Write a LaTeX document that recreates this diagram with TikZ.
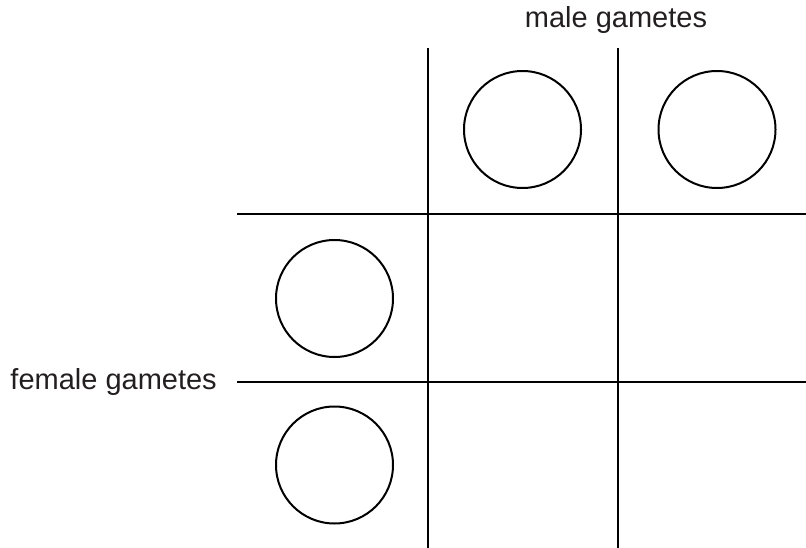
\documentclass[tikz,border=0pt]{standalone}
\usepackage{fontspec}
\setmainfont{Liberation Sans}
\definecolor{txt}{HTML}{231F20}
\begin{document}
\begin{tikzpicture}[x=1pt,y=-1pt,
  gridline/.style={line width=2pt,black},
  gamete/.style={circle,draw=black,line width=2pt,minimum size=117pt,inner sep=0pt},
  label/.style={font=\fontsize{29}{34}\selectfont,text=txt,inner sep=0pt}]
\useasboundingbox (0,0) rectangle (806,548);
% grid end points
\coordinate (v1t) at (427.5,48);
\coordinate (v1b) at (427.5,548);
\coordinate (v2t) at (618,48);
\coordinate (v2b) at (618,548);
\coordinate (h1l) at (237,214.5);
\coordinate (h1r) at (806,214.5);
\coordinate (h2l) at (237,381.5);
\coordinate (h2r) at (806,381.5);
\draw[gridline] (v1t) -- (v1b);
\draw[gridline] (v2t) -- (v2b);
\draw[gridline] (h1l) -- (h1r);
\draw[gridline] (h2l) -- (h2r);
% gametes
\node[gamete] (m1) at (522.5,129.5) {};
\node[gamete] (m2) at (717,129.5) {};
\node[gamete] (f1) at (334.5,298.5) {};
\node[gamete] (f2) at (334.5,465) {};
% labels
\node[label,anchor=base] (male) at (616,28) {male gametes};
\node[label,anchor=base east] (female) at (217,389) {female gametes};
\end{tikzpicture}
\end{document}
